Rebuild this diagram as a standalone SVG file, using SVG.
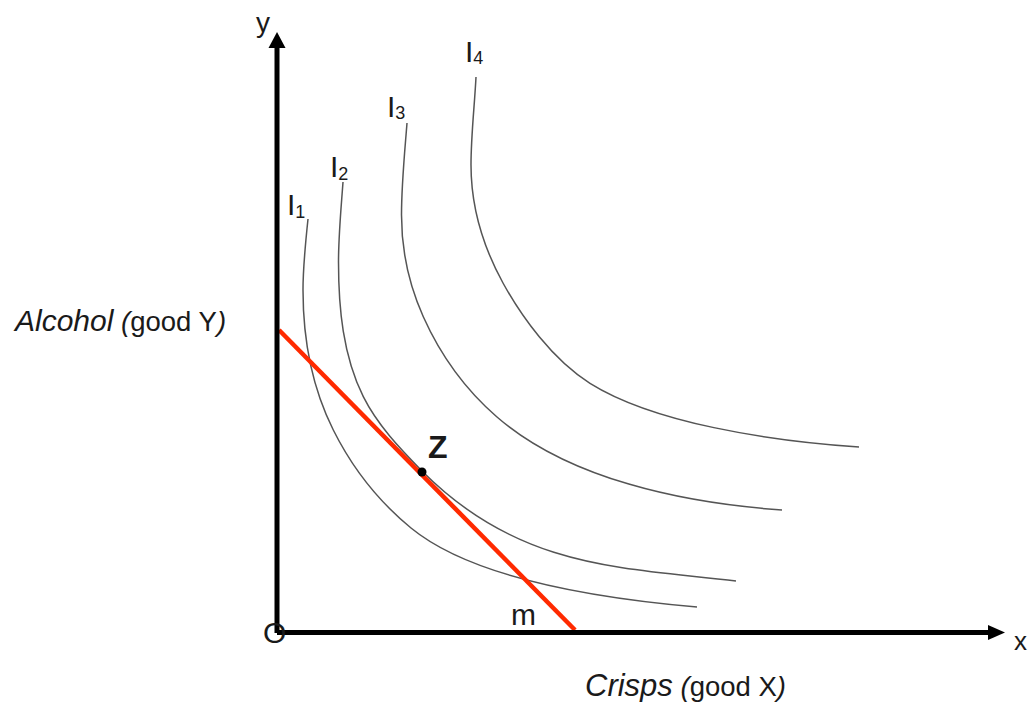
<svg xmlns="http://www.w3.org/2000/svg" width="1030" height="702" viewBox="0 0 1030 702">
<style>
.t{font-family:"Liberation Sans",Arial,sans-serif;fill:#1a1a1a}
.curve{fill:none;stroke:#555;stroke-width:1.5}
.axis{stroke:#000;stroke-width:5;fill:none}
.sub{font-size:18px}
</style>
<rect width="1030" height="702" fill="#fff"/>
<g id="curves">
<path id="I1-curve" class="curve" d="M308,219 C305.5,242.6 303,266.3 303,290 C303,337.7 311.9,387.3 333.3,430 C352.4,468.2 378.5,501.3 411,528 C472,578 597.4,598.3 697,607"/>
<path id="I2-curve" class="curve" d="M343,182 C341.1,208.6 338.5,235.3 338.5,262 C338.5,307.7 342.9,355.8 363.3,396.7 C377.4,424.9 399.9,448.6 422,471 C520.4,570.5 626.8,567.6 736,581"/>
<path id="I3-curve" class="curve" d="M407,123 C404.6,153.6 401.5,184.3 401.5,215 C401.5,249.7 409.1,285.05 423.3,316.7 C440.2,354.4 465.5,389.6 496.7,416.7 C568.4,479 682.2,503 782,510"/>
<path id="I4-curve" class="curve" d="M476,77 C474.5,106.4 471,135.6 471,165 C471,205.8 483.4,247.3 503,283 C521.3,316.3 552.4,359.8 590,383.3 C653.6,423 767.2,440.6 859,447"/>
</g>
<g id="budget-line">
<line x1="279" y1="330" x2="575" y2="630" stroke="#FF2A00" stroke-width="4.5"/>
</g>
<g id="axes">
<line class="axis" x1="277" y1="633" x2="277" y2="46"/>
<polygon points="277,32 268.5,48 285.5,48" fill="#000"/>
<line class="axis" x1="277" y1="632.5" x2="990" y2="632.5"/>
<polygon points="1005,632.5 988,625 988,640" fill="#000"/>
</g>
<g id="origin"><text class="t" x="263" y="643" font-size="30" fill="#333">O</text></g>
<g id="point-z">
<circle cx="422" cy="472" r="4.5" fill="#000"/>
<text class="t" x="428" y="458" font-size="32" font-weight="bold">Z</text>
</g>
<g id="labels">
<text class="t" x="256" y="32" font-size="28">y</text>
<text class="t" x="1014" y="650" font-size="26">x</text>
<text class="t" x="511" y="625" font-size="30">m</text>
<text class="t" x="287" y="215" font-size="30">I<tspan class="sub" dy="3">1</tspan></text>
<text class="t" x="330" y="177" font-size="30">I<tspan class="sub" dy="3">2</tspan></text>
<text class="t" x="387" y="117" font-size="30">I<tspan class="sub" dy="2">3</tspan></text>
<text class="t" x="465" y="62" font-size="30">I<tspan class="sub" dy="2">4</tspan></text>
<text class="t" x="15" y="331" font-size="27.5"><tspan font-style="italic" font-size="30">Alcohol</tspan> <tspan font-style="italic">(</tspan>good Y<tspan font-style="italic">)</tspan></text>
<text class="t" x="585" y="696" font-size="27.5"><tspan font-style="italic" font-size="31">Crisps</tspan> <tspan font-style="italic">(</tspan>good X<tspan font-style="italic">)</tspan></text>
</g>
</svg>
